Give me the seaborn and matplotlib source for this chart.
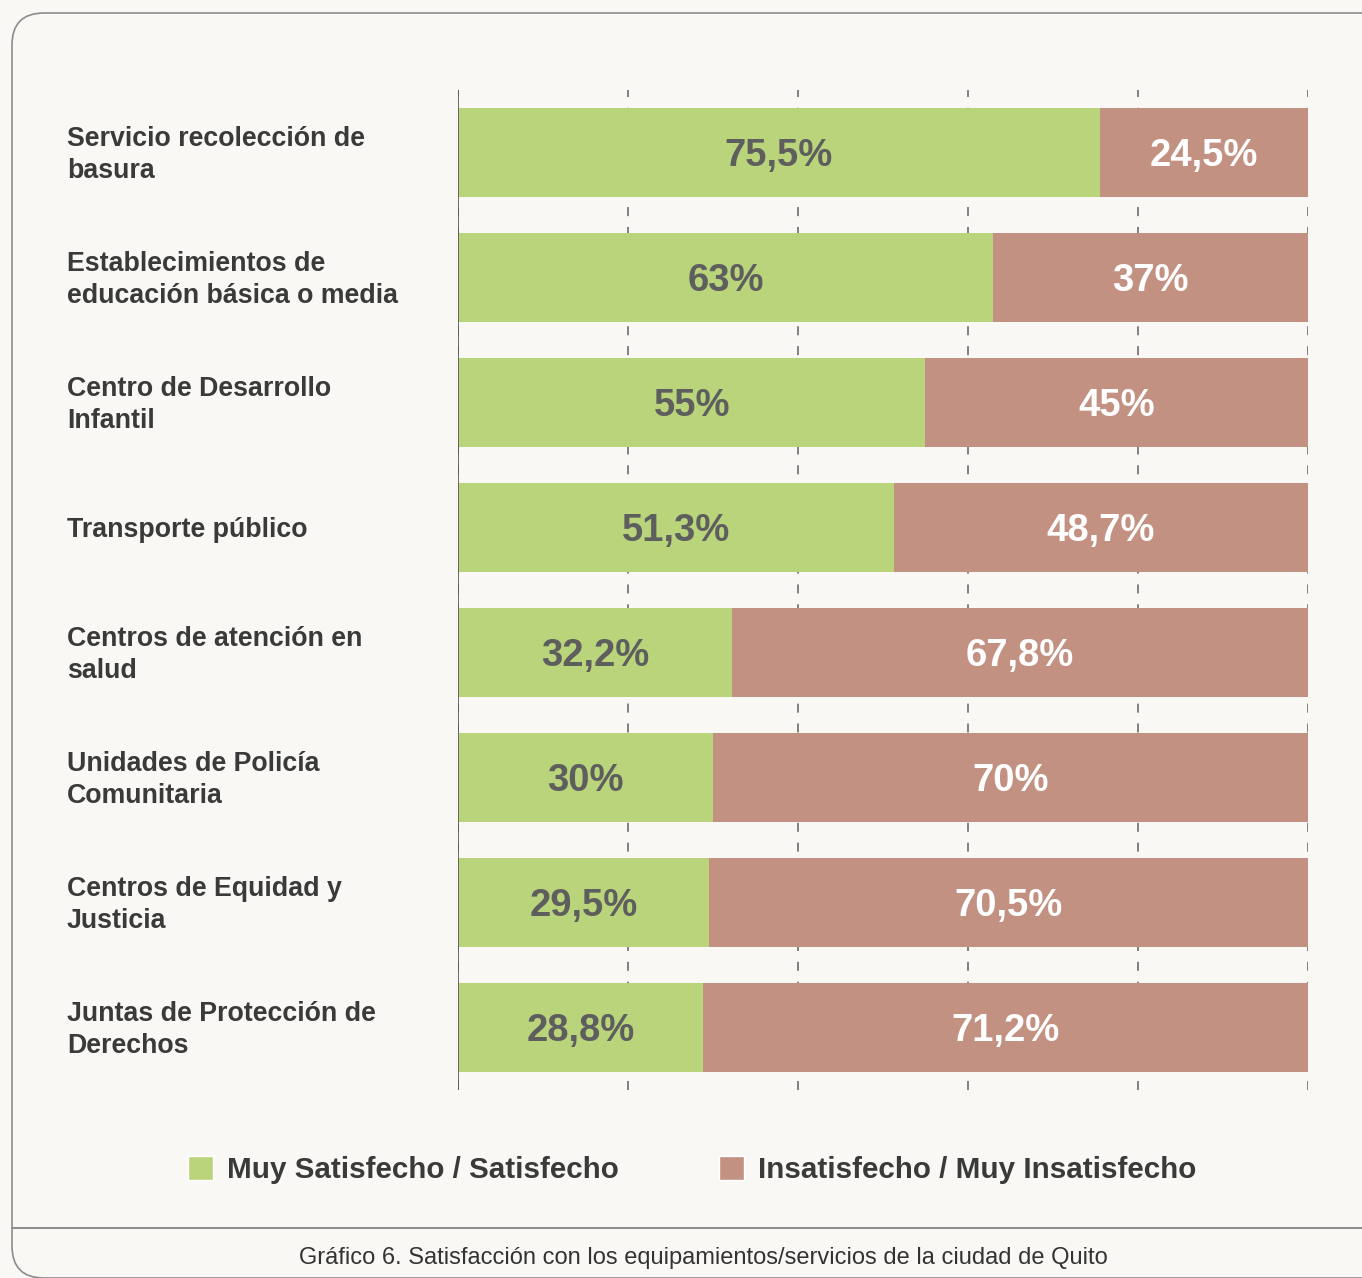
import matplotlib
matplotlib.use("Agg")
import numpy as np
import pandas as pd
import seaborn as sns
import matplotlib.pyplot as plt
from matplotlib.patches import FancyBboxPatch, Patch
from matplotlib.lines import Line2D
from matplotlib import transforms


categories = [
    "Servicio recolección de\nbasura",
    "Establecimientos de\neducación básica o media",
    "Centro de Desarrollo\nInfantil",
    "Transporte público",
    "Centros de atención en\nsalud",
    "Unidades de Policía\nComunitaria",
    "Centros de Equidad y\nJusticia",
    "Juntas de Protección de\nDerechos",
]
satisfied = [75.5, 63, 55, 51.3, 32.2, 30, 29.5, 28.8]
dissatisfied = [24.5, 37, 45, 48.7, 67.8, 70, 70.5, 71.2]
series_names = ["Muy Satisfecho / Satisfecho", "Insatisfecho / Muy Insatisfecho"]
caption = "Gráfico 6. Satisfacción con los equipamientos/servicios de la ciudad de Quito"

GREEN = "#B9D47B"
BROWN = "#C39182"
BG = "#F9F8F4"
TEXT = "#3a3a3a"


def pct(v):
    ''' 75.5 -> "75,5%" '''
    return f"{v:g}".replace(".", ",") + "%"


sns.set_style("white")
plt.rcParams["font.family"] = ["Liberation Sans", "DejaVu Sans"]

df = pd.DataFrame({"cat": categories,
                   "sat": satisfied,
                   "total": np.array(satisfied) + np.array(dissatisfied)})

fig = plt.figure(figsize=(13.62, 12.78), dpi=100, facecolor=BG)

# frame around the chart (inch units so the corner stays round)
box = FancyBboxPatch((0.12, 0.0), 14.0, 12.65,
                     boxstyle="round,pad=0,rounding_size=0.32",
                     transform=fig.dpi_scale_trans, facecolor="none",
                     edgecolor="#8c8c8c", lw=1.2, zorder=-1)
fig.patches.append(box)
fig.add_artist(Line2D([12 / 1362, 1.0], [1 - 1228 / 1278] * 2,
                      transform=fig.transFigure, color="#8c8c8c", lw=1.4))

ax = fig.add_axes([458 / 1362, 1 - 1090 / 1278, 850 / 1362, 1000 / 1278])
ax.set_facecolor("none")
ax.set_zorder(2)

sns.barplot(data=df, x="total", y="cat", color=BROWN, saturation=1,
            width=0.712, linewidth=0, orient="h", ax=ax, zorder=2)
sns.barplot(data=df, x="sat", y="cat", color=GREEN, saturation=1,
            width=0.712, linewidth=0, orient="h", ax=ax, zorder=3)

ax.set_xlim(0, 100)
ax.set_ylim(len(categories) - 0.5, -0.5)
ax.set_xticks([0, 20, 40, 60, 80, 100])
ax.set_yticks([])
ax.tick_params(axis="x", length=0, labelbottom=False)
ax.set_xlabel("")
ax.set_ylabel("")
ax.xaxis.grid(True, linestyle=(0, (5, 6)), color="#777777", lw=1.3)
ax.set_axisbelow(True)
for s in ax.spines.values():
    s.set_visible(False)
ax.axvline(0, color="#555555", lw=1.2, zorder=4)

for i, (s, d) in enumerate(zip(satisfied, dissatisfied)):
    ax.text(s / 2, i + 0.03, pct(s), ha="center", va="center", fontsize=27.5,
            fontweight="bold", color="#5e5e5e", zorder=5)
    ax.text(s + d / 2, i + 0.03, pct(d), ha="center", va="center", fontsize=27.5,
            fontweight="bold", color="white", zorder=5)

# category labels, left aligned in the frame
trans = transforms.blended_transform_factory(fig.transFigure, ax.transData)
for i, c in enumerate(categories):
    ax.text(67 / 1362, i + 0.02, c, transform=trans, ha="left", va="center",
            fontsize=19.3, fontweight="bold", color=TEXT, linespacing=1.3)

handles = [Patch(facecolor=GREEN, label=series_names[0]),
           Patch(facecolor=BROWN, label=series_names[1])]
fig.legend(handles=handles, loc="center", bbox_to_anchor=(692 / 1362, 1 - 1170 / 1278),
           ncol=2, frameon=False, prop={"size": 21.3, "weight": "bold"},
           labelcolor=TEXT, handlelength=0.85, handleheight=0.85,
           handletextpad=0.45, columnspacing=3.4)

fig.text(703 / 1362, 1 - 1258 / 1278, caption, ha="center", va="center",
         fontsize=17, color="#333333")

fig.savefig("out.png", dpi=100, facecolor=BG)
